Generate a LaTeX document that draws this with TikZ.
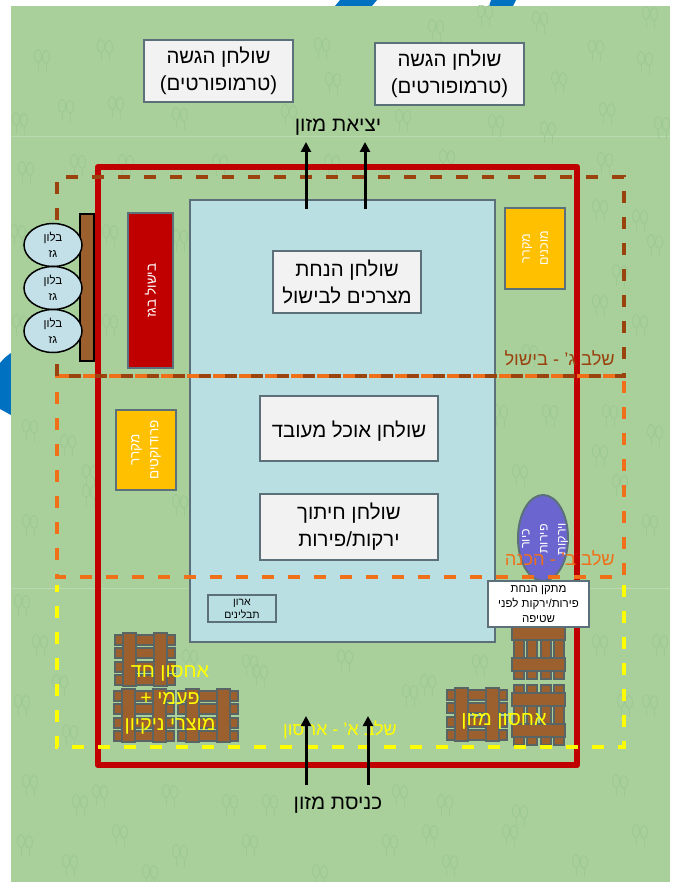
\documentclass[tikz,border=0pt]{standalone}
\usepackage{fontspec}
\setmainfont[Script=Hebrew]{Liberation Sans}
\TeXXeTstate=1
\usepackage{xcolor}
\usepackage{tikz}
\usetikzlibrary{calc, positioning, arrows.meta, shapes.geometric}

\definecolor{grassbg}{HTML}{A9D09B}
\definecolor{treeline}{HTML}{9FC993}
\definecolor{logoblue}{HTML}{0070C0}
\definecolor{tentred}{HTML}{C00000}
\definecolor{boxedge}{HTML}{5B7078}
\definecolor{tablefill}{HTML}{B9DFE3}
\definecolor{whitebox}{HTML}{F2F2F2}
\definecolor{fridgefill}{HTML}{FFC000}
\definecolor{woodfill}{HTML}{9C5F2E}
\definecolor{palletedge}{HTML}{596465}
\definecolor{gasfill}{HTML}{C3E0E8}
\definecolor{sinkfill}{HTML}{6B66CF}
\definecolor{cookdash}{HTML}{9A430F}
\definecolor{prepdash}{HTML}{F0701A}
\definecolor{storedash}{HTML}{FFFF00}

\newcommand{\rl}[1]{\beginR #1\endR}

\tikzset{
  tablebox/.style={draw=boxedge, line width=2, fill=whitebox, align=center, inner sep=0pt, font=\fontsize{20.4}{27}\selectfont, execute at begin node={\rule{0pt}{21pt}}},
  fridgebox/.style={draw=boxedge, line width=2, fill=fridgefill, text=white, align=center, inner sep=0pt, font=\fontsize{12.5}{18}\selectfont},
  gasballoon/.style={draw=black, line width=1.5, fill=gasfill, ellipse, align=center, inner sep=0pt, minimum width=58pt, minimum height=43pt, font=\fontsize{11.5}{16}\selectfont},
  zonedash/.style={line width=3.5, dash pattern=on 12pt off 14pt},
  pathway/.style={line width=3, -{Triangle[length=10pt,width=10pt]}},
  palletline/.style={draw=palletedge, line width=2, fill=woodfill},
  palletv/.pic={
    \foreach \y in {0.5,14,27.5,41} \path[palletline] (0,\y) rectangle (60,\y+10);
    \foreach \x in {8,39} \path[palletline] (\x,-1) rectangle (\x+13,52);
  },
  palleth/.pic={
    \foreach \x in {0.5,14,27.5,41} \path[palletline] (\x,0) rectangle (\x+10,60);
    \foreach \y in {8,39} \path[palletline] (-1,\y) rectangle (52,\y+13);
  },
  trees/.pic={
    \draw[treeline, line width=1] (-4,7) -- (-4,16) (4,8) -- (4,17);
    \draw[treeline, line width=1] (-4,1) ellipse (3.5 and 6.5) (4,2) ellipse (3.5 and 6.5);
  },
}

\begin{document}
\begin{tikzpicture}[x=1pt, y=-1pt, node distance=43pt]
  \useasboundingbox (0,0) rectangle (679,882);

  % background %
  \fill[white] (0,0) rectangle (679,882);
  \fill[logoblue] (335,6) -- (340,0) -- (377,0) -- (372,6) -- cycle;
  \fill[logoblue] (489,6) -- (491,0) -- (516,0) -- (513,6) -- cycle;
  \fill[logoblue] (0,363) .. controls (4,358) and (8,355) .. (11,353) -- (11,415) -- (0,409) -- cycle;
  \fill[grassbg] (11,6) rectangle (670,882);
  \draw[white, opacity=0.2, line width=1] (11,137) -- (670,137) (11,588) -- (670,588);
  \begin{scope}
    \clip (11,6) rectangle (670,882);
    \foreach \tx/\ty in {42/55,105/45,322/43,436/25,540/17,650/12,485/10,333/78,559/77,596/45,645/57,
      66/105,116/102,20/118,180/113,289/110,403/115,496/120,548/127,607/108,662/122,
      26/167,78/160,126/160,220/160,332/160,447/155,605/158,
      18/230,110/230,20/320,110/320,180/235,600/205,640/215,30/425,68/440,90/470,30/520,
      620/270,655/240,640/320,600/300,610/410,655/430,620/480,650/520,600/450,
      90/490,180/500,520/470,550/410,500/410,530/350,
      22/600,60/680,30/780,70/730,250/660,190/655,
      260/670,345/655,410/690,428/680,480/660,600/640,660/640,625/700,
      100/790,170/790,230/800,270/800,400/790,445/800,520/810,620/780,
      25/840,70/860,120/830,180/850,250/840,320/870,390/840,450/860,510/830,580/860,640/830,
      40/640,22/700,650/700,80/800,150/870,430/830} {
      \pic at (\tx,\ty) {trees};
    }
  \end{scope}

  % nodes %
  \draw[tentred, line width=6.5, line join=round] (98,167) rectangle (577,765);
  \node[draw=boxedge, line width=2, fill=tablefill, inner sep=0pt, minimum width=305pt, minimum height=442pt] (kitchen) at (342.5,421) {};

  \node[tablebox, minimum width=149pt, minimum height=62pt] (servinga) at (218.5,71) {\rl{שולחן הגשה}\\\rl{(טרמופורטים)}};
  \node[tablebox, minimum width=149pt, minimum height=62pt] (servingb) at (449.5,74) {\rl{שולחן הגשה}\\\rl{(טרמופורטים)}};
  \node[tablebox, minimum width=148pt, minimum height=62pt] (rawtable) at (347,282) {\rl{שולחן הנחת}\\\rl{מצרכים לבישול}};
  \node[tablebox, minimum width=178pt, minimum height=65pt] (readytable) at (349,428.5) {\rl{שולחן אוכל מעובד}};
  \node[tablebox, minimum width=178pt, minimum height=66pt] (cuttable) at (349,527) {\rl{שולחן חיתוך}\\\rl{ירקות/פירות}};
  \node[draw=boxedge, line width=2, align=center, inner sep=0pt, minimum width=68pt, minimum height=27pt, font=\fontsize{10.5}{13}\selectfont] (spices) at (242,608.5) {\rl{ארון}\\\rl{תבלינים}};

  \node[draw=boxedge, line width=2, fill=tentred, text=white, inner sep=0pt, minimum width=155pt, minimum height=45pt, rotate=90, font=\fontsize{13.5}{16}\selectfont] (gascook) at (150.5,290.5) {\rl{בישול בגז}};
  \node[fridgebox, minimum width=81pt, minimum height=60pt, rotate=90] (fridgeready) at (535,248.5) {\rl{מקרר}\\\rl{מוכנים}};
  \node[fridgebox, minimum width=80pt, minimum height=60pt, rotate=90, font=\fontsize{13.5}{19}\selectfont] (fridgeprod) at (146,450) {\rl{מקרר}\\\rl{פרודוקטים}};

  \draw[boxedge, line width=2, fill=sinkfill] (543,538) ellipse (25 and 43);
  \node[text=white, align=center, rotate=90, inner sep=0pt, font=\fontsize{12.5}{18}\selectfont] (sink) at (545,539) {\rl{כיור}\\\rl{פירות}\\\rl{וירקות}};

  \pic at (115,634) {palletv};
  \pic at (114,690) {palletv};
  \pic at (178,690) {palletv};
  \pic at (447,689) {palletv};
  \pic at (513,619) {palleth};
  \pic at (513,685) {palleth};

  % zones %
  \draw[prepdash, zonedash] (57,376) -- (624,376) -- (624,577) -- (57,577) -- cycle;
  \draw[storedash, zonedash] (624,585) -- (624,747) -- (57,747) -- (57,585);
  \draw[cookdash, zonedash] (57,376) -- (57,177) -- (624,177) -- (624,376) -- cycle;

  \node[draw=black, line width=1.5, fill=woodfill, inner sep=0pt, minimum width=14pt, minimum height=147pt] (rack) at (87,287.5) {};
  \node[gasballoon] (gasa) at (53,245) {\rl{בלון}\\\rl{גז}};
  \node[gasballoon, below of = gasa] (gasb) {\rl{בלון}\\\rl{גז}};
  \node[gasballoon, below of = gasb] (gasc) {\rl{בלון}\\\rl{גז}};

  \node[draw=boxedge, line width=2, fill=white, align=center, inner sep=0pt, minimum width=101pt, minimum height=46pt, font=\fontsize{11.5}{15}\selectfont] (rinse) at (538.5,604) {\rl{מתקן הנחת}\\\rl{פירות/ירקות לפני}\\\rl{שטיפה}};

  % labels %
  \node[font=\fontsize{20.6}{23}\selectfont] (exitlabel) at (338,127) {\rl{יציאת מזון}};
  \node[font=\fontsize{20.6}{23}\selectfont] (entrylabel) at (338,805) {\rl{כניסת מזון}};
  \node[text=cookdash, anchor=east, inner sep=0pt, font=\fontsize{18.3}{20}\selectfont] (cooklabel) at (615,358) {\rl{שלב ג' - בישול}};
  \node[text=prepdash, anchor=east, inner sep=0pt, font=\fontsize{18.3}{20}\selectfont] (preplabel) at (615,558) {\rl{שלב ב' - הכנה}};
  \node[text=storedash, inner sep=0pt, font=\fontsize{18}{20}\selectfont] (storelabel) at (340,730) {\rl{שלב א' - אחסון}};
  \node[text=storedash, align=center, inner sep=0pt, font=\fontsize{19.8}{26.5}\selectfont] (cleanlabel) at (170,700) {\rl{אחסון חד}\\\rl{פעמי +}\\\rl{מוצרי ניקיון}};
  \node[text=storedash, inner sep=0pt, font=\fontsize{20}{22}\selectfont] (foodlabel) at (504,721) {\rl{אחסון מזון}};

  % edges %
  \coordinate (exitafrom) at (306,209);
  \coordinate (exitato) at (306,142);
  \coordinate (exitbfrom) at (365,209);
  \coordinate (exitbto) at (365,142);
  \coordinate (entryafrom) at (306,785);
  \coordinate (entryato) at (306,716);
  \coordinate (entrybfrom) at (368,785);
  \coordinate (entrybto) at (368,716);
  \draw[pathway] (exitafrom) -- (exitato);
  \draw[pathway] (exitbfrom) -- (exitbto);
  \draw[pathway] (entryafrom) -- (entryato);
  \draw[pathway] (entrybfrom) -- (entrybto);
\end{tikzpicture}
\end{document}
